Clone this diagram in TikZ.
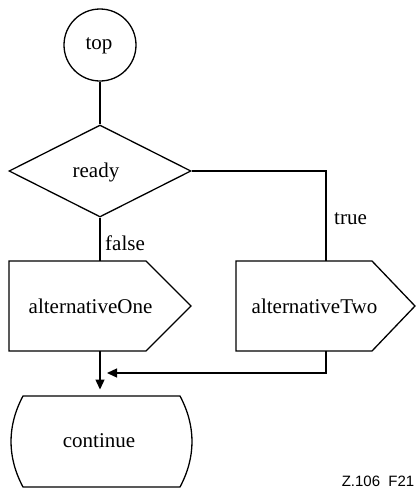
\documentclass[tikz,border=0pt]{standalone}
\usepackage{fontspec}
\setmainfont{Liberation Serif}
\newfontfamily\labelsans{Liberation Sans}
\usetikzlibrary{arrows.meta,shapes.geometric}
\tikzset{
  outline/.style={draw=black, line width=1.3pt, line join=miter},
  flow/.style={draw=black, line width=1.3pt},
  flowarrow/.style={flow, -{Triangle[length=10pt,width=9pt]}},
  lbl/.style={font=\fontsize{21}{25}\selectfont, inner sep=0pt},
}
\begin{document}
\begin{tikzpicture}[x=1pt,y=-1pt]
  \useasboundingbox (0,0) rectangle (416,488);

  % start symbol
  \node[outline, circle, minimum size=72pt, inner sep=0pt] (top) at (100,45) {};
  \node[lbl] (topText) at (99,46) {top};

  % decision
  \node[outline, diamond, minimum width=182pt, minimum height=92pt, inner sep=0pt] (ready) at (100,171) {};
  \node[lbl] (readyText) at (96,172) {ready};

  % the two task symbols
  \draw[outline] (9,261) -- (146,261) -- (191,306) -- (146,351) -- (9,351) -- cycle;
  \node[lbl] (altOne) at (90.5,306) {alternativeOne};
  \draw[outline] (236,261) -- (372,261) -- (415,306) -- (372,351) -- (236,351) -- cycle;
  \node[lbl] (altTwo) at (314.5,306) {alternativeTwo};

  % continuation symbol with bulging sides
  \draw[outline] (23,396) -- (180,396)
        .. controls (196,426) and (196,457) .. (180,487)
        -- (23,487)
        .. controls (7,457) and (7,426) .. (23,396) -- cycle;
  \node[lbl] (cont) at (99,441) {continue};

  % connection points
  \coordinate (oneIn) at (100,261);
  \coordinate (oneOut) at (100,351);
  \coordinate (twoIn) at (326,261);
  \coordinate (twoOut) at (326,351);
  \coordinate (joinTip) at (107,373);
  \coordinate (contTip) at (100,389.5);

  % connectors
  \draw[flow] (top.south) -- (ready.north);
  \draw[flow] (ready.south) -- (oneIn);
  \draw[flow] (ready.east) -| (twoIn);
  \draw[flowarrow] (oneOut) -- (contTip);
  \draw[flowarrow] (twoOut) |- (joinTip);

  % branch labels
  \node[lbl, anchor=west] (falseLbl) at (105,243) {false};
  \node[lbl, anchor=west] (trueLbl) at (334,219) {true};

  % figure reference
  \node[font=\labelsans\fontsize{15}{18}\selectfont, anchor=base east, inner sep=0pt] (figref) at (414.5,486) {Z.106\ \ F21};
\end{tikzpicture}
\end{document}
